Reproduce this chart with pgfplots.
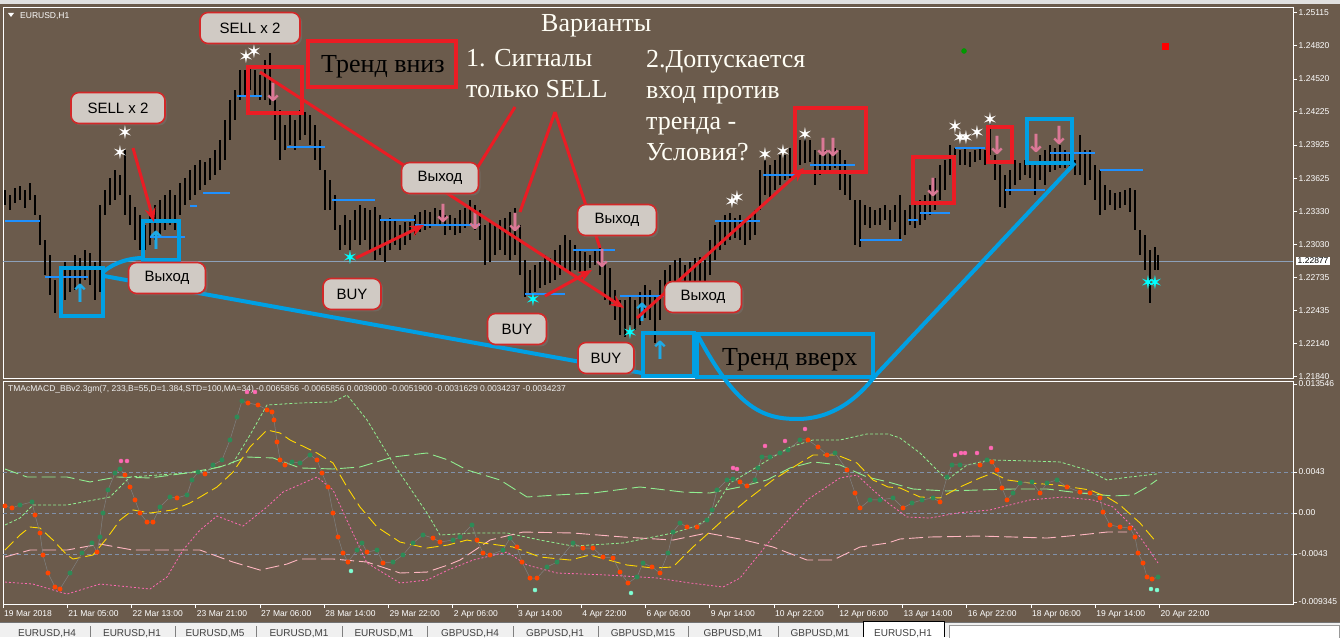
\documentclass[border=0pt]{standalone}
\usepackage{fontspec}
\setmainfont{Liberation Sans}
\newfontfamily\serif{Liberation Serif}
\newfontfamily\dejavu{DejaVu Sans}
\usepackage{pgfplots}
\usepackage{pgfplotstable}
\pgfplotsset{compat=1.18}
\usetikzlibrary{arrows.meta,shadows}
\definecolor{bg}{RGB}{107,91,76}
\definecolor{lblfill}{RGB}{208,202,196}
\definecolor{lblred}{RGB}{210,40,40}
\definecolor{annred}{RGB}{235,28,36}
\definecolor{annblue}{RGB}{0,160,228}
\definecolor{levelblue}{RGB}{30,144,255}
\definecolor{pricegray}{RGB}{140,160,185}
\definecolor{gridc}{RGB}{128,145,170}
\definecolor{pinkarrow}{RGB}{219,120,150}
\definecolor{cyanarrow}{RGB}{30,170,230}
\definecolor{starcyan}{RGB}{0,255,255}
\definecolor{macdgreen}{RGB}{46,139,87}
\definecolor{macdorange}{RGB}{255,69,0}
\definecolor{bandgreen}{RGB}{144,238,144}
\definecolor{yel}{RGB}{255,215,0}
\definecolor{hotpink}{RGB}{255,105,180}
\definecolor{ltpink}{RGB}{255,182,193}
\definecolor{aqua}{RGB}{127,255,212}
\definecolor{tabbg}{RGB}{240,240,240}

\pgfplotstableread{
x lo hi
5 1.23385 1.2352
10 1.2334 1.23475
15 1.23403 1.23538
20 1.2343 1.23556
25 1.23358 1.2352
30 1.2343 1.23583
35 1.23295 1.23475
40 1.23025 1.23295
45 1.22755 1.2307
50 1.22575 1.22935
55 1.22413 1.2271
60 1.22485 1.228
65 1.2253 1.22872
70 1.22602 1.22818
75 1.2262 1.22935
80 1.22665 1.22908
85 1.2271 1.2298
90 1.22665 1.22953
95 1.2253 1.22872
100 1.22602 1.23385
105 1.23295 1.2352
110 1.23385 1.23628
115 1.2343 1.237
120 1.23475 1.23655
125 1.23295 1.2388
130 1.23205 1.23475
135 1.2307 1.23367
140 1.2298 1.23295
145 1.2298 1.23205
150 1.23025 1.23295
155 1.2307 1.23385
160 1.23115 1.2343
165 1.2316 1.23475
170 1.23205 1.2352
175 1.2316 1.23475
180 1.23295 1.23583
185 1.23385 1.23628
190 1.2343 1.237
195 1.23475 1.23745
200 1.2352 1.2379
205 1.23565 1.23772
210 1.2361 1.23808
215 1.23655 1.2388
220 1.237 1.2397
225 1.2379 1.2415
230 1.2397 1.2433
235 1.2415 1.2442
240 1.2433 1.246
245 1.24375 1.246
250 1.2442 1.24645
255 1.24375 1.246
260 1.2433 1.24555
265 1.2433 1.2469
270 1.24285 1.24753
275 1.2397 1.2433
280 1.2379 1.2424
285 1.2388 1.24105
290 1.23925 1.24195
295 1.2388 1.2415
300 1.2397 1.2424
305 1.24015 1.24222
310 1.23925 1.24195
315 1.2379 1.24105
320 1.237 1.2397
325 1.2334 1.237
330 1.2334 1.2361
335 1.2316 1.23475
340 1.2298 1.23205
345 1.23025 1.23295
350 1.2298 1.2325
355 1.2307 1.2334
360 1.23025 1.23385
365 1.2307 1.23358
370 1.2298 1.2334
375 1.2289 1.23367
380 1.22935 1.23295
385 1.22872 1.2325
390 1.2298 1.23268
395 1.23025 1.2325
400 1.2298 1.23205
405 1.23025 1.23232
410 1.2307 1.23232
415 1.23115 1.23295
420 1.23142 1.23322
425 1.2316 1.2334
430 1.23178 1.23322
435 1.23196 1.23358
440 1.23205 1.2334
445 1.23115 1.23295
450 1.2316 1.23295
455 1.23115 1.23268
460 1.23133 1.2334
465 1.23178 1.23358
470 1.23205 1.2343
475 1.2316 1.23385
480 1.2307 1.2334
485 1.22845 1.23205
490 1.22872 1.2325
495 1.22935 1.23205
500 1.2298 1.2325
505 1.22935 1.23268
510 1.2289 1.23322
515 1.22935 1.23358
520 1.22755 1.23205
525 1.22557 1.2289
530 1.22575 1.228
535 1.22602 1.22845
540 1.22638 1.22872
545 1.22665 1.22935
550 1.22683 1.22908
555 1.2271 1.2298
560 1.22755 1.23025
565 1.228 1.23115
570 1.22782 1.2307
575 1.228 1.23025
580 1.22773 1.2298
585 1.22755 1.22962
590 1.22818 1.22935
595 1.22845 1.2298
600 1.22755 1.22998
605 1.2253 1.22872
610 1.22485 1.22818
615 1.2235 1.2262
620 1.22215 1.2253
625 1.22197 1.2253
630 1.22305 1.22575
635 1.2226 1.2253
640 1.22305 1.22602
645 1.22368 1.22665
650 1.2235 1.2262
655 1.22143 1.22575
660 1.2235 1.2271
665 1.22485 1.228
670 1.2253 1.22845
675 1.22575 1.2289
680 1.2262 1.22908
685 1.22548 1.22845
690 1.22602 1.22872
695 1.2262 1.22908
700 1.22665 1.22917
705 1.2253 1.2289
710 1.22755 1.2307
715 1.2289 1.23205
720 1.2298 1.2325
725 1.23025 1.23295
730 1.2307 1.23313
735 1.23088 1.23268
740 1.2307 1.23295
745 1.23025 1.2325
750 1.2307 1.23268
755 1.23115 1.2334
760 1.2334 1.237
765 1.23475 1.2379
770 1.2343 1.23745
775 1.2352 1.2379
780 1.23565 1.23835
785 1.2361 1.23835
790 1.23628 1.23898
795 1.237 1.2388
800 1.23745 1.2397
805 1.23763 1.23997
810 1.23772 1.2397
815 1.23565 1.2388
820 1.23655 1.23835
825 1.237 1.2388
830 1.23682 1.23862
835 1.23718 1.23898
840 1.2352 1.2388
845 1.23475 1.2379
850 1.2343 1.23655
855 1.23025 1.2343
860 1.23007 1.2343
865 1.23205 1.23385
870 1.23178 1.23367
875 1.23205 1.2334
880 1.23205 1.23358
885 1.2325 1.23385
890 1.2316 1.2334
895 1.23232 1.23385
900 1.2307 1.23475
905 1.23115 1.2334
910 1.23205 1.23385
915 1.23178 1.23385
920 1.23205 1.2343
925 1.2325 1.23475
930 1.23295 1.23565
935 1.2334 1.23628
940 1.2343 1.23745
945 1.2352 1.2379
950 1.23655 1.23925
955 1.237 1.23898
960 1.23745 1.2388
965 1.23745 1.23898
970 1.23727 1.23862
975 1.23772 1.2388
980 1.2379 1.23907
985 1.23745 1.2388
990 1.23835 1.24132
995 1.2361 1.23835
1000 1.23367 1.23745
1005 1.23358 1.23655
1010 1.23475 1.237
1015 1.23565 1.2379
1020 1.2361 1.23763
1025 1.23655 1.2379
1030 1.23628 1.23772
1035 1.23475 1.23745
1040 1.2361 1.23835
1045 1.23565 1.2388
1050 1.23682 1.23925
1055 1.237 1.23898
1060 1.23718 1.23925
1065 1.23718 1.2388
1070 1.237 1.23862
1075 1.23655 1.2379
1080 1.23655 1.24015
1085 1.23565 1.2388
1090 1.2361 1.2388
1095 1.2343 1.23745
1100 1.23295 1.237
1105 1.2334 1.23565
1110 1.23385 1.2352
1115 1.2334 1.23493
1120 1.23358 1.23502
1125 1.23385 1.2352
1130 1.23322 1.23538
1135 1.2316 1.2352
1140 1.22935 1.2316
1145 1.228 1.23115
1150 1.22503 1.2298
1155 1.228 1.23007
1158 1.228 1.22935
}\bars

\pgfplotstableread{
x y c
5 0.00074 o
12 0.00053 o
20 0.00084 g
32 0.00116 g
35 -0.00021 o
40 -0.0021 o
43 -0.00441 o
48 -0.0063 o
55 -0.00777 o
60 -0.00798 o
70 -0.0063 g
82 -0.0042 g
92 -0.00315 g
97 -0.0041 o
100 -0.00252 g
103 0 g
108 0.00242 g
115 0.0042 g
120 0.00462 g
125 0.00399 o
130 0.00273 o
135 0.00137 o
140 0 o
147 -0.00095 o
153 -0.00095 o
160 0.00063 g
170 0.00168 g
177 0.00158 o
187 0.00189 g
192 0.00347 g
198 0.0043 g
205 0.0041 o
213 0.00504 g
222 0.00557 g
230 0.00767 g
237 0.01008 g
242 0.01176 g
248 0.01155 o
258 0.01134 o
267 0.01082 o
272 0.01061 o
274 0.00977 o
277 0.00746 o
280 0.00557 o
285 0.00504 o
292 0.00536 g
300 0.00525 g
310 0.00609 g
317 0.00557 o
322 0.0042 o
328 0.00273 o
333 0 o
338 -0.00252 o
343 -0.0042 o
348 -0.00515 o
357 -0.00389 g
362 -0.00315 g
367 -0.0041 o
377 -0.00389 g
383 -0.00525 o
393 -0.00515 g
403 -0.00441 g
413 -0.00315 g
423 -0.00231 g
433 -0.00263 o
440 -0.00305 o
453 -0.00284 g
460 -0.00252 g
472 -0.00126 g
477 -0.00284 o
483 -0.0042 o
490 -0.00441 o
503 -0.00389 g
510 -0.00263 g
517 -0.00357 o
522 -0.00515 o
530 -0.00683 o
537 -0.00683 o
547 -0.00567 g
557 -0.00515 g
573 -0.00315 g
583 -0.00368 o
593 -0.00368 o
603 -0.00462 o
613 -0.00473 o
620 -0.0062 o
628 -0.00735 o
637 -0.00672 g
643 -0.00525 g
652 -0.00567 o
660 -0.0063 o
668 -0.0042 g
673 -0.002 g
680 -0.00105 g
687 -0.00147 o
697 -0.00147 o
707 -0.00074 g
712 0.00032 g
717 0.00242 g
727 0.00347 g
733 0.00357 g
740 0.00326 o
747 0.00284 o
755 0.00347 g
758 0.00473 g
762 0.00588 g
770 0.00588 g
780 0.0063 g
788 0.00662 g
800 0.00767 g
808 0.00767 o
818 0.00693 o
827 0.00609 o
835 0.0063 g
847 0.00452 o
855 0.0021 o
860 0.00053 o
870 0.00137 g
880 0.00137 g
893 0.00158 g
903 0.00053 o
912 0.00105 g
922 0.00137 g
933 0.00158 g
940 0.00116 o
947 0.00378 g
952 0.00504 g
960 0.00504 g
980 0.00504 o
987 0.00557 g
992 0.00536 o
997 0.00452 o
1002 0.00263 o
1007 0.00137 o
1013 0.0021 g
1020 0.00315 g
1032 0.00326 g
1040 0.0021 o
1047 0.00315 g
1057 0.00347 g
1067 0.00273 o
1080 0.0022 o
1090 0.0021 o
1100 0.00158 o
1103 0.0001 o
1110 -0.00126 o
1120 -0.00147 o
1130 -0.00158 o
1135 -0.00252 o
1138 -0.0042 o
1143 -0.00525 o
1147 -0.00672 o
1152 -0.00693 o
1158 -0.00672 g
}\macd

\begin{document}
\begin{tikzpicture}
\useasboundingbox (0pt,0pt) rectangle (1340pt,637pt);
\clip (0pt,0pt) rectangle (1340pt,637pt);
\fill[bg] (0pt,0pt) rectangle (1340pt,637pt);

% ===== price panel =====
\begin{axis}[
  at={(3pt,630pt)}, anchor=north west,
  width=1290pt, height=371pt, scale only axis,
  xmin=3, xmax=1293, ymin=1.21828, ymax=1.25167,
  axis line style={white, line width=0.8pt},
  xtick=\empty, scaled y ticks=false, scaled x ticks=false,
  ytick={1.25115,1.24820,1.24520,1.24225,1.23925,1.23625,1.23330,1.23030,1.22735,1.22435,1.22140,1.21840},
  yticklabels={1.25115,1.24820,1.24520,1.24225,1.23925,1.23625,1.23330,1.23030,1.22735,1.22435,1.22140,1.21840},
  ytick pos=right, yticklabel pos=right, tick align=outside,
  major tick length=4pt, tick style={white, line width=0.6pt},
  yticklabel style={font=\fontsize{8.5}{10}\selectfont, text=white, inner xsep=1.5pt},
  unbounded coords=jump,
]
\addplot[pricegray, line width=0.7pt, forget plot] coordinates {(3,1.22877)(1293,1.22877)};
\addplot[draw=none, mark=none, error bars/.cd, y dir=plus, y explicit,
  error mark=none, error bar style={black, line width=1.5pt}]
  table[x=x, y=lo, y error expr=\thisrow{hi}-\thisrow{lo}] {\bars};
\addplot[levelblue, line width=1.3pt] coordinates {
(5,1.23241)(40,1.23241)(40,nan)
(45,1.22737)(88,1.22737)(88,nan)
(150,1.23097)(185,1.23097)(185,nan)
(190,1.23376)(197,1.23376)(197,nan)
(203,1.23493)(230,1.23493)(230,nan)
(237,1.24366)(262,1.24366)(262,nan)
(287,1.23907)(325,1.23907)(325,nan)
(332,1.2343)(375,1.2343)(375,nan)
(380,1.2325)(415,1.2325)(415,nan)
(415,1.23205)(480,1.23205)(480,nan)
(525,1.22584)(565,1.22584)(565,nan)
(573,1.2298)(615,1.2298)(615,nan)
(620,1.22566)(665,1.22566)(665,nan)
(715,1.23241)(760,1.23241)(760,nan)
(763,1.23655)(800,1.23655)(800,nan)
(810,1.23745)(855,1.23745)(855,nan)
(860,1.2307)(902,1.2307)(902,nan)
(908,1.2325)(918,1.2325)(918,nan)
(920,1.23313)(950,1.23313)(950,nan)
(955,1.23898)(985,1.23898)(985,nan)
(1005,1.2352)(1045,1.2352)(1045,nan)
(1050,1.23853)(1095,1.23853)(1095,nan)
(1100,1.237)(1143,1.237)
};
% stars
\addplot[only marks, mark=text, text mark={✶}, text mark as node=true,
  text mark style={font=\dejavu\fontsize{19}{19}\selectfont, text=white, inner sep=0pt}]
  coordinates {(125,1.24033)(120,1.23853)(246,1.24717)(254,1.24762)(732,1.23412)(737,1.23448)
  (765,1.23835)(783,1.23862)(805,1.24015)(955,1.24087)(960,1.23988)(966,1.23988)(977,1.24033)(990,1.2415)};
\addplot[only marks, mark=text, text mark={✶}, text mark as node=true,
  text mark style={font=\dejavu\fontsize{19}{19}\selectfont, text=starcyan, inner sep=0pt}]
  coordinates {(350,1.22908)(533,1.2253)(630,1.22233)(1148,1.22683)(1155,1.22683)};
% arrows
\addplot[only marks, mark=text, text mark={↓}, text mark as node=true,
  text mark style={font=\dejavu\bfseries\fontsize{25}{25}\selectfont, text=pinkarrow, inner sep=0pt}]
  coordinates {(273,1.24402)(443,1.23313)(475,1.2325)(515,1.23232)(602,1.22908)(823,1.23907)(833,1.23907)
  (933,1.23547)(997,1.23925)(1036,1.23943)(1059,1.24015)};
\addplot[only marks, mark=text, text mark={↑}, text mark as node=true,
  text mark style={font=\dejavu\bfseries\fontsize{25}{25}\selectfont, text=cyanarrow, inner sep=0pt}]
  coordinates {(80,1.22593)(156,1.2307)(660,1.2208)(642,1.22422)};
\addplot[only marks, mark=*, mark size=2.5pt, color=green!60!black] coordinates {(964,1.24771)};
\addplot[only marks, mark=square*, mark size=3pt, color=red] coordinates {(1165,1.24816)};
\end{axis}

% ===== indicator panel =====
\begin{axis}[
  at={(3pt,256pt)}, anchor=north west,
  width=1290pt, height=223pt, scale only axis,
  xmin=3, xmax=1293, ymin=-0.009555, ymax=0.01386,
  scaled y ticks=false, scaled x ticks=false,
  axis line style={white, line width=0.8pt},
  xtick={3,67.25,131.5,195.75,260,324.25,388.5,452.75,517,581.25,645.5,709.75,774,838.25,902.5,966.75,1031,1095.25,1159.5},
  xticklabels={19 Mar 2018,21 Mar 05:00,22 Mar 13:00,23 Mar 21:00,27 Mar 06:00,28 Mar 14:00,29 Mar 22:00,2 Apr 06:00,3 Apr 14:00,4 Apr 22:00,6 Apr 06:00,9 Apr 14:00,10 Apr 22:00,12 Apr 06:00,13 Apr 14:00,16 Apr 22:00,18 Apr 06:00,19 Apr 14:00,20 Apr 22:00},
  ytick={0.013546,0.0043,0,-0.0043,-0.009345},
  yticklabels={0.013546,0.0043,0.00,-0.0043,-0.009345},
  xtick pos=bottom, ytick pos=right, yticklabel pos=right, tick align=outside,
  major tick length=4pt, tick style={white, line width=0.6pt},
  yticklabel style={font=\fontsize{8.5}{10}\selectfont, text=white, inner xsep=1.5pt},
  xticklabel style={font=\fontsize{8.5}{10}\selectfont, text=white, anchor=north west, inner xsep=1pt, inner ysep=2pt},
]
\addplot[gridc, line width=0.7pt, dash pattern=on 4pt off 3pt] coordinates {(3,0.0043)(1293,0.0043)};
\addplot[gridc, line width=0.7pt, dash pattern=on 4pt off 3pt] coordinates {(3,0)(1293,0)};
\addplot[gridc, line width=0.7pt, dash pattern=on 4pt off 3pt] coordinates {(3,-0.0043)(1293,-0.0043)};
% upper band
\addplot[bandgreen, line width=0.8pt, dash pattern=on 3pt off 2pt] coordinates {
(5,-0.00126)(20,-0.00053)(33,0.00084)(67,0.00084)(110,0.00168)(130,0.00378)(200,0.0043)(233,0.00525)
(250,0.00819)(267,0.01134)(300,0.01155)(333,0.01166)(347,0.01239)(367,0.00977)(393,0.00525)(427,0)
(440,-0.00231)(473,-0.0021)(507,-0.0021)(540,-0.00284)(573,-0.00347)(623,-0.00315)(673,-0.0021)(693,-0.00147)
(707,-0.00074)(730,0.00315)(747,0.0042)(773,0.00588)(790,0.00693)(813,0.00767)(840,0.00767)(867,0.0083)
(888,0.0083)(900,0.00788)(920,0.0063)(937,0.00452)(947,0.00347)(967,0.00504)(990,0.00557)(1030,0.00546)
(1060,0.00536)(1087,0.00452)(1107,0.00347)(1130,0.00378)(1157,0.0041)};
% middle
\addplot[bandgreen, line width=0.9pt, dash pattern=on 14pt off 5pt] coordinates {
(5,0.00462)(27,0.00378)(67,0.00378)(90,0.00326)(117,0.00378)(150,0.00368)(187,0.0042)(220,0.00483)
(247,0.00588)(273,0.00578)(300,0.00473)(333,0.00462)(360,0.00483)(393,0.00588)(427,0.0063)(448,0.00557)
(467,0.00452)(500,0.00347)(527,0.00168)(557,0.00189)(593,0.0021)(640,0.00273)(683,0.0022)(710,0.0021)
(740,0.00273)(767,0.00347)(790,0.00473)(813,0.00536)(840,0.00504)(867,0.00378)(888,0.00326)(913,0.00252)
(947,0.00231)(980,0.00242)(1013,0.00252)(1047,0.00252)(1080,0.0021)(1113,0.00179)(1133,0.00189)(1147,0.00273)(1157,0.00347)};
% light pink
\addplot[ltpink, line width=0.9pt, dash pattern=on 14pt off 5pt] coordinates {
(5,-0.00462)(30,-0.00389)(67,-0.00389)(100,-0.00326)(133,-0.00389)(167,-0.00389)(200,-0.00389)(233,-0.00515)
(260,-0.00599)(287,-0.00536)(300,-0.00483)(333,-0.00483)(367,-0.00515)(400,-0.0063)(427,-0.0062)(448,-0.00546)
(460,-0.00494)(490,-0.00284)(523,-0.002)(573,-0.0021)(623,-0.00252)(673,-0.00284)(707,-0.0021)(740,-0.00273)
(773,-0.00357)(807,-0.00494)(833,-0.00494)(860,-0.00357)(888,-0.00315)(900,-0.00273)(930,-0.00252)(980,-0.00242)
(1013,-0.00252)(1047,-0.00263)(1080,-0.00231)(1107,-0.002)(1127,-0.002)};
% hot pink dotted
\addplot[hotpink, line width=0.8pt, dash pattern=on 2pt off 2pt] coordinates {
(5,-0.00725)(33,-0.00746)(67,-0.00851)(100,-0.00746)(150,-0.00798)(167,-0.00672)(183,-0.00389)(200,-0.00179)
(217,-0.00032)(243,-0.00137)(267,0.00063)(283,0.0022)(317,0.00378)(333,0.00242)(350,-0.00147)(367,-0.00525)
(400,-0.00735)(427,-0.00704)(448,-0.00599)(473,-0.00494)(507,-0.0041)(527,-0.00546)(557,-0.0063)(607,-0.00651)
(657,-0.00683)(690,-0.00735)(723,-0.00777)(740,-0.00683)(773,-0.00252)(807,0.00137)(840,0.00368)(857,0.00399)
(873,0.00242)(888,0.00105)(907,-0.00042)(930,-0.00053)(957,0)(990,0.00032)(1030,0.00137)(1063,0.00168)
(1093,0.00137)(1113,0.00063)(1133,-0.00147)(1147,-0.00357)(1158,-0.00525)};
% yellow
\addplot[yel, line width=0.9pt, dash pattern=on 12pt off 5pt] coordinates {
(5,-0.00389)(20,-0.00231)(30,-0.00147)(40,-0.00158)(53,-0.00284)(67,-0.00441)(73,-0.00483)(93,-0.00441)
(107,-0.00263)(120,-0.00074)(133,0.00032)(150,0)(173,0.00032)(190,0.00105)(217,0.00273)(233,0.0043)
(250,0.00693)(267,0.00872)(280,0.0084)(290,0.00767)(317,0.0063)(333,0.00525)(347,0.00273)(360,0.00063)
(377,-0.00147)(400,-0.00305)(427,-0.00368)(448,-0.00336)(467,-0.00284)(483,-0.00315)(513,-0.00357)(540,-0.00462)
(570,-0.00494)(590,-0.00441)(627,-0.00546)(653,-0.00578)(673,-0.00567)(693,-0.00357)(723,-0.00074)(747,0.00137)
(773,0.00347)(800,0.00525)(813,0.00609)(837,0.00609)(857,0.00525)(873,0.00347)(888,0.00273)(900,0.00263)
(920,0.00168)(940,0.00158)(960,0.00273)(980,0.00368)(993,0.0042)(1007,0.00347)(1030,0.00315)(1057,0.00294)
(1090,0.00242)(1107,0.00168)(1120,0.00084)(1140,-0.00105)(1157,-0.00315)};
% main MACD
\addplot[scatter, scatter src=explicit symbolic, gray, line width=0.5pt,
  scatter/classes={g={mark=*, mark size=2.2pt, draw=macdgreen, fill=macdgreen},
                   o={mark=*, mark size=2.2pt, draw=macdorange, fill=macdorange}}]
  table[x=x, y=y, meta=c] {\macd};
\addplot[only marks, mark=*, mark size=2pt, color=hotpink] coordinates {
(121,0.00546)(127,0.00546)(247,0.01271)(255,0.01271)(733,0.00473)(737,0.00462)(765,0.00704)(785,0.00756)(805,0.00882)
(955,0.00609)(961,0.0063)(965,0.0063)(977,0.0063)(991,0.00683)};
\addplot[only marks, mark=*, mark size=2pt, color=aqua] coordinates {
(351,-0.00609)(535,-0.00809)(631,-0.0084)(1151,-0.00798)(1157,-0.00809)};
\end{axis}

% ===== annotations & window chrome in screen pixels =====
\begin{scope}[yshift=637pt, x=1pt, y=-1pt]
\fill[black!12] (0,0) rectangle (1340,4);
\node[anchor=west, text=white, font=\fontsize{8.5}{10}\selectfont, inner sep=0pt] at (20,16) {EURUSD,H1};
\fill[white] (8,13) -- (14,13) -- (11,17) -- cycle;
\node[anchor=west, text=white!88!gray, font=\fontsize{8.5}{10}\selectfont, inner sep=0pt] at (8,389)
 {TMAcMACD\_BBv2.3gm(7, 233,B=55,D=1.384,STD=100,MA=34) -0.0065856 -0.0065856 0.0039000 -0.0051900 -0.0031629 0.0034237 -0.0034237};
\node[fill=white, text=black, anchor=west, font=\fontsize{8.5}{10}\selectfont, inner xsep=1.5pt, inner ysep=1pt] at (1296,261) {1.22877};

% tab bar
\fill[tabbg] (0,622) rectangle (1340,637);
\draw[black!55] (0,622) -- (1340,622);
\foreach \s in {90,175,256,342,427,513,598,688,778}{\draw[black!50] (\s,626) -- (\s,637);}
\fill[white] (863,621) rectangle (944,637);
\draw[black] (863,637) -- (863,621) -- (944,621) -- (944,637);
\fill[white] (949,625) rectangle (1340,637);
\draw[black!40] (949,625) rectangle (1339,640);
\foreach \xx/\t in {47/{EURUSD,H4},132/{EURUSD,H1},215/{EURUSD,M5},299/{EURUSD,M1},384/{EURUSD,M1},470/{GBPUSD,H4},555/{GBPUSD,H1},643/{GBPUSD,M15},733/{GBPUSD,M1},820/{GBPUSD,M1},903/{EURUSD,H1}}
  {\node[anchor=north, text=black!75, font=\fontsize{10}{12}\selectfont, inner sep=0pt] at (\xx,629) {\t};}

% red boxes
\begin{scope}[annred, line width=4pt]
\draw (248,67) rectangle (302,113);
\draw (308,41) rectangle (456,87);
\draw (795,108) rectangle (866,172);
\draw (913,157) rectangle (954,203);
\draw (988,127) rectangle (1012,162);
\end{scope}
\node[anchor=base west, font=\serif\fontsize{26}{26}\selectfont, text=black, inner sep=0pt] at (321,73) {Тренд вниз};

% blue boxes and lines
\begin{scope}[annblue, line width=4pt]
\draw (61,268) rectangle (103,316);
\draw (143,221) rectangle (179,260);
\draw (643,333) rectangle (694,376);
\draw (697,334) rectangle (873,377);
\draw (1027,119) rectangle (1072,163);
\draw (103,272) .. controls (115,262) and (130,258) .. (143,258);
\draw (104,276) -- (642,373);
\draw (697,334) .. controls (735,405) and (760,419) .. (797,419) .. controls (833,419) and (858,398) .. (875,376) -- (1075,163);
\end{scope}
\node[anchor=base west, font=\serif\fontsize{26}{26}\selectfont, text=black, inner sep=0pt] at (722,366) {Тренд вверх};

% red arrows
\begin{scope}[annred, line width=3pt]
\draw[-{Stealth[length=14pt,width=11pt]}] (133,148) -- (154,222);
\draw[-{Stealth[length=14pt,width=11pt]}] (260,72) -- (624,308);
\draw[-{Stealth[length=14pt,width=11pt]}] (356,258) -- (424,225);
\draw[-{Stealth[length=14pt,width=11pt]}] (545,296) -- (592,270);
\draw[-{Stealth[length=14pt,width=11pt]}] (637,318) -- (804,168);
\draw (468,183) -- (515,107);
\draw (555,112) -- (520,212);
\draw (555,112) -- (600,248);
\end{scope}

% label boxes
\tikzset{lbl/.style={draw=lblred, line width=1.6pt, fill=lblfill, rounded corners=8pt, text=black,
  font=\fontsize{15}{15}\selectfont, minimum height=31pt, inner xsep=4pt,
  drop shadow={opacity=0.35, shadow xshift=2pt, shadow yshift=-2pt}}}
\node[lbl, minimum width=94pt] at (118,108) {SELL x 2};
\node[lbl, minimum width=100pt] at (250,28) {SELL x 2};
\node[lbl, minimum width=77pt] at (167,278) {Выход};
\node[lbl, minimum width=58pt] at (352,294) {BUY};
\node[lbl, minimum width=77pt] at (440,178) {Выход};
\node[lbl, minimum width=79pt] at (617,220) {Выход};
\node[lbl, minimum width=59pt] at (517,329) {BUY};
\node[lbl, minimum width=56pt] at (606,358) {BUY};
\node[lbl, minimum width=77pt] at (703,297) {Выход};

% white serif texts
\begin{scope}[every node/.style={anchor=base west, font=\serif\fontsize{26}{26}\selectfont, text=white!96!yellow, inner sep=0pt}]
\node at (541,32) {Варианты};
\node at (466,67) {1. Сигналы};
\node at (466,98) {только SELL};
\node at (646,68) {2.Допускается};
\node at (646,99) {вход против};
\node at (646,130) {тренда -};
\node at (646,161) {Условия?};
\end{scope}
\end{scope}
\end{tikzpicture}
\end{document}
